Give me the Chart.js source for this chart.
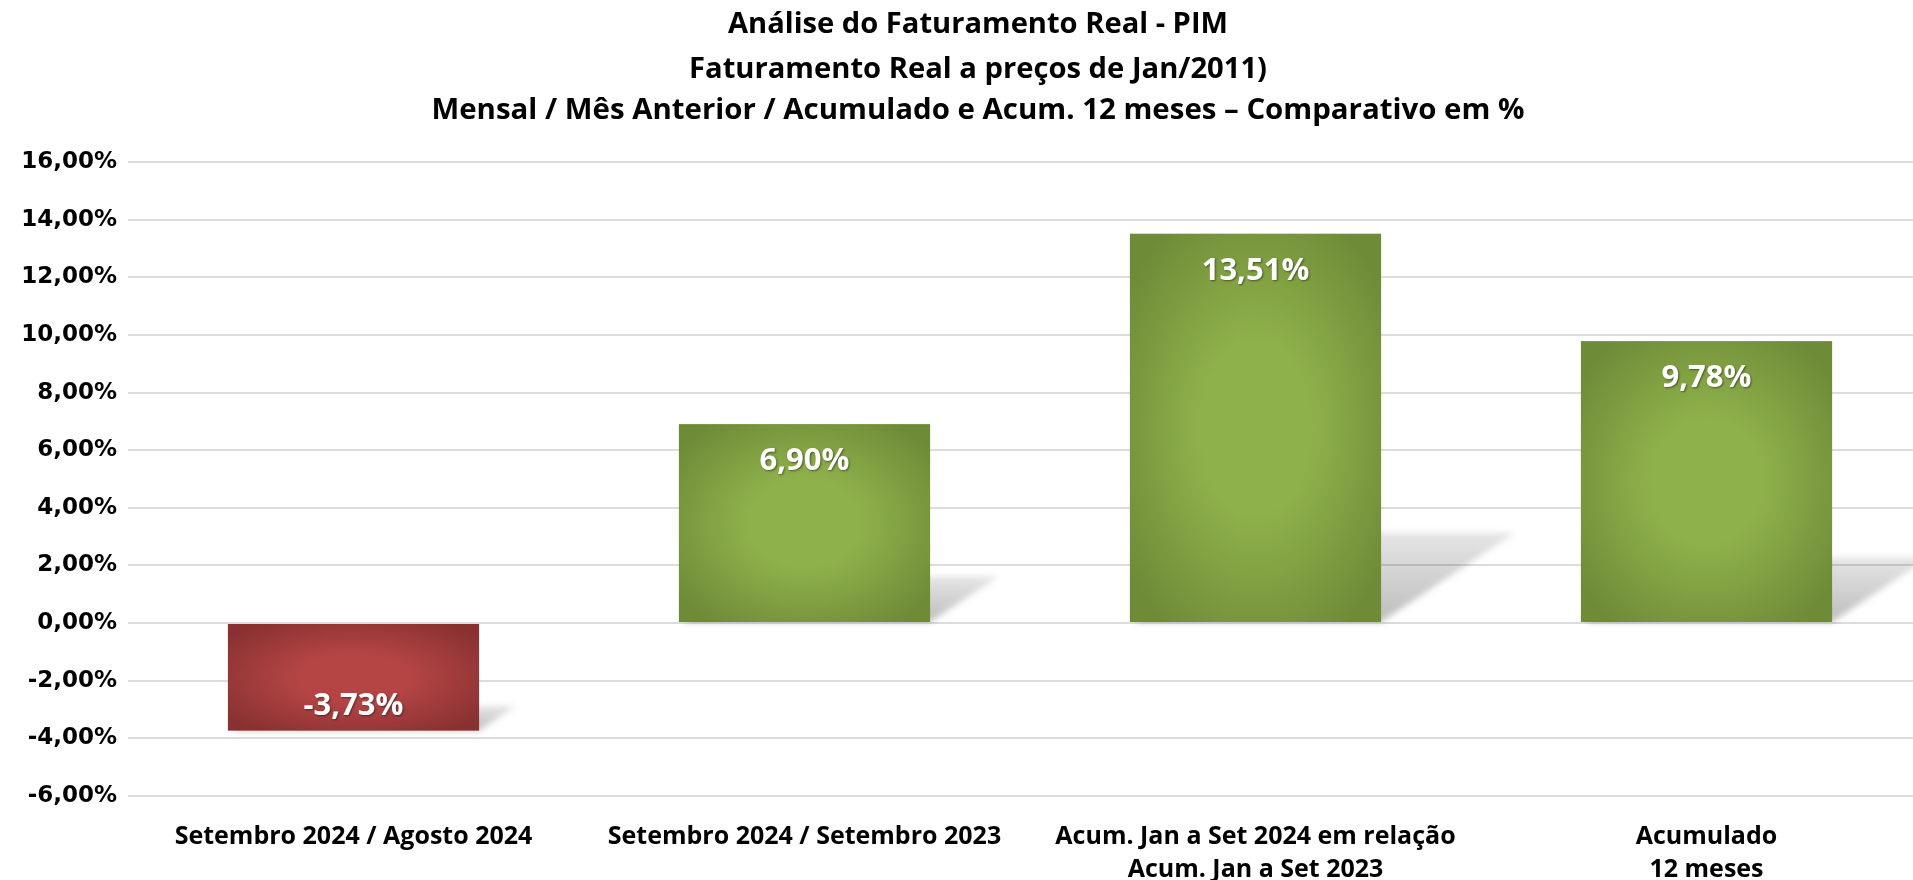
<!DOCTYPE html>
<html>
<head>
<meta charset="utf-8">
<script src="https://cdn.jsdelivr.net/npm/chart.js@4.4.1/dist/chart.umd.min.js"></script>
<style>
  html, body { margin: 0; padding: 0; background: #ffffff; overflow: hidden; }
  #wrap { width: 1913px; height: 880px; overflow: hidden; }
  canvas { display: block; }
</style>
</head>
<body>
<div id="wrap"><canvas id="c" width="1932" height="880"></canvas></div>
<script>
// ---- data ----
const titleLines = [
  "Análise do Faturamento Real - PIM",
  "Faturamento Real a preços de Jan/2011)",
  "Mensal / Mês Anterior / Acumulado e Acum. 12 meses – Comparativo em %"
];
const categories = [
  ["Setembro 2024 / Agosto 2024"],
  ["Setembro 2024 / Setembro 2023"],
  ["Acum. Jan a Set 2024 em relação", "Acum. Jan a Set 2023"],
  ["Acumulado", "12 meses"]
];
const values = [-3.73, 6.90, 13.51, 9.78];
const valueLabels = ["-3,73%", "6,90%", "13,51%", "9,78%"];
const yMin = -6, yMax = 16, yStep = 2;
const yTickLabels = ["-6,00%","-4,00%","-2,00%","0,00%","2,00%","4,00%","6,00%","8,00%","10,00%","12,00%","14,00%","16,00%"];

// ---- styles ----
const GREEN_EDGE = '#6e8b37', GREEN_MID = '#8fb14b';
const RED_EDGE = '#893131', RED_MID = '#b54545';
const TITLE_BASELINES = [33, 78, 119];
const TITLE_WIDTHS = [500, 578, 1093];
const TITLE_CX = 978;

const titlePlugin = {
  id: 'titleLines',
  afterDraw(chart) {
    const ctx = chart.ctx;
    titleLines.forEach((t, i) => {
      ctx.save();
      ctx.fillStyle = '#000';
      ctx.textAlign = 'center';
      ctx.textBaseline = 'alphabetic';
      ctx.font = 'bold 28px "Open Sans"';
      const w = ctx.measureText(t).width;
      const sx = TITLE_WIDTHS[i] / w;
      ctx.translate(TITLE_CX, TITLE_BASELINES[i]);
      ctx.scale(sx, 1);
      ctx.fillText(t, 0, 0);
      ctx.restore();
    });
  }
};

const shadowPlugin = {
  id: 'barShadow',
  beforeDatasetsDraw(chart) {
    const ctx = chart.ctx;
    const meta = chart.getDatasetMeta(0);
    ctx.save();
    ctx.filter = 'blur(3px)';
    meta.data.forEach(el => {
      const p = el.getProps(['x', 'y', 'base', 'width'], true);
      const left = p.x - p.width / 2, right = p.x + p.width / 2;
      const bottom = Math.max(p.y, p.base);
      const h = Math.abs(p.base - p.y);
      const rise = 0.23 * h, dx = 1.5 * rise;
      const g = ctx.createLinearGradient(0, bottom, 0, bottom - rise);
      g.addColorStop(0, 'rgba(0,0,0,0.26)');
      g.addColorStop(1, 'rgba(0,0,0,0.10)');
      ctx.fillStyle = g;
      ctx.beginPath();
      ctx.moveTo(left + 4, bottom);
      ctx.lineTo(right, bottom);
      ctx.lineTo(right + dx, bottom - rise);
      ctx.lineTo(left + dx, bottom - rise);
      ctx.closePath();
      ctx.fill();
    });
    ctx.restore();
  },
  afterDatasetsDraw(chart) {
    const ctx = chart.ctx;
    const meta = chart.getDatasetMeta(0);
    meta.data.forEach((el, i) => {
      const p = el.getProps(['x', 'y', 'base', 'width'], true);
      const left = p.x - p.width / 2;
      const top = Math.min(p.y, p.base), h = Math.abs(p.base - p.y);
      const cx = p.x, cy = top + h / 2;
      const neg = values[i] < 0;
      ctx.save();
      ctx.beginPath();
      ctx.rect(left, top, p.width, h);
      ctx.clip();
      ctx.translate(cx, cy);
      ctx.scale(p.width / 2, h / 2);
      const g = ctx.createRadialGradient(0, 0, 0, 0, 0, 1.25);
      g.addColorStop(0, neg ? RED_MID : GREEN_MID);
      g.addColorStop(0.35, neg ? RED_MID : GREEN_MID);
      g.addColorStop(1, neg ? RED_EDGE : GREEN_EDGE);
      ctx.fillStyle = g;
      ctx.fillRect(-1, -1, 2, 2);
      ctx.restore();
      // data label
      ctx.save();
      ctx.font = 'bold 31px "Open Sans"';
      ctx.textAlign = 'center';
      ctx.textBaseline = 'middle';
      ctx.shadowColor = 'rgba(0,0,0,0.45)';
      ctx.shadowBlur = 2;
      ctx.shadowOffsetX = 1;
      ctx.shadowOffsetY = 1;
      ctx.fillStyle = '#ffffff';
      const ly = neg ? p.y - 24 : p.y + 37;
      ctx.fillText(valueLabels[i], p.x, ly);
      ctx.restore();
    });
  }
};

new Chart(document.getElementById('c'), {
  type: 'bar',
  data: {
    labels: categories,
    datasets: [{
      data: values,
      backgroundColor: values.map(v => v < 0 ? RED_EDGE : GREEN_EDGE),
      borderWidth: 0,
      barPercentage: 0.557,
      categoryPercentage: 1.0
    }]
  },
  options: {
    responsive: false,
    animation: false,
    devicePixelRatio: 1,
    layout: { padding: { top: 162, left: 0, right: 0, bottom: 0 } },
    plugins: { legend: { display: false }, title: { display: false }, tooltip: { enabled: false } },
    scales: {
      x: {
        grid: { display: false, drawTicks: false },
        border: { display: false },
        ticks: {
          color: '#000',
          padding: 24,
          maxRotation: 0,
          autoSkip: false,
          font: { family: '"Open Sans"', weight: 'bold', size: 25, lineHeight: 1.32 }
        },
        afterFit(scale) { scale.height = 84; }
      },
      y: {
        min: yMin, max: yMax,
        grid: { color: '#dcdcdc', lineWidth: 2, drawTicks: false },
        border: { display: false },
        ticks: {
          stepSize: yStep,
          color: '#000',
          padding: 11,
          font: { family: '"DejaVu Sans"', weight: 'bold', size: 23 },
          callback: (v) => yTickLabels[Math.round((v - yMin) / yStep)]
        },
        afterFit(scale) { scale.width = 128; }
      }
    }
  },
  plugins: [titlePlugin, shadowPlugin]
});
</script>
</body>
</html>
